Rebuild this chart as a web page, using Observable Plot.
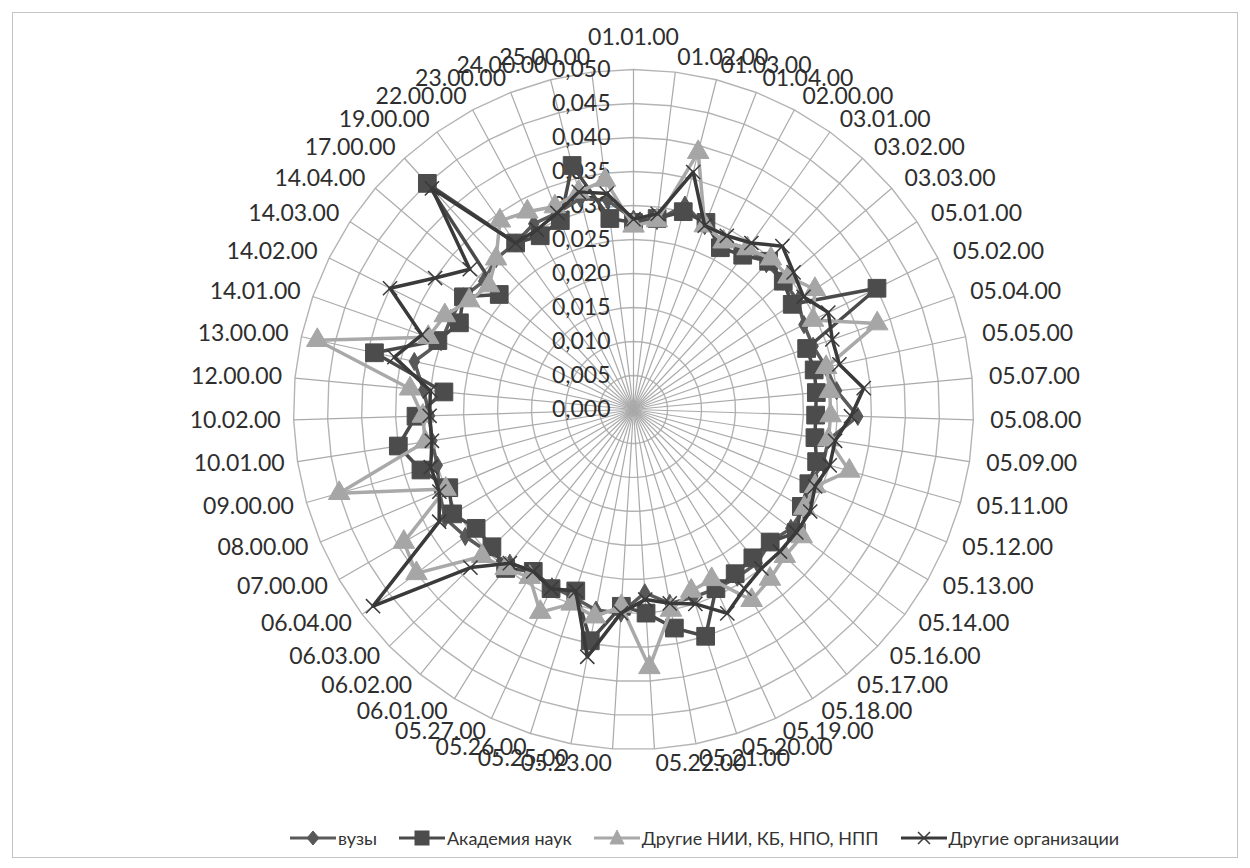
<!DOCTYPE html>
<html><head><meta charset="utf-8">
<script src="https://cdn.jsdelivr.net/npm/d3@7"></script>
<script src="https://cdn.jsdelivr.net/npm/@observablehq/plot@0.6"></script>
<style>
body{margin:0;background:#fff;font-family:Lato,"Open Sans",sans-serif;}
#frame{position:absolute;left:12px;top:12px;width:1226px;height:846px;border:1px solid #c4c4c4;box-sizing:border-box;pointer-events:none;}
#chart{position:absolute;left:0;top:0;}
#legend{position:absolute;top:826px;left:290px;display:flex;align-items:center;font-family:Lato,sans-serif;font-size:18px;color:#333;white-space:nowrap;}
#legend .item{display:flex;align-items:center;margin-right:22px;}
#legend svg{margin-right:2px;}
</style></head>
<body>
<div id="chart"></div>
<div id="legend"></div>
<div id="frame"></div>
<script>
const categories = ["01.01.00","01.02.00","01.03.00","01.04.00","02.00.00","03.01.00","03.02.00","03.03.00","05.01.00","05.02.00","05.04.00","05.05.00","05.07.00","05.08.00","05.09.00","05.11.00","05.12.00","05.13.00","05.14.00","05.16.00","05.17.00","05.18.00","05.19.00","05.20.00","05.21.00","05.22.00","05.23.00","05.25.00","05.26.00","05.27.00","06.01.00","06.02.00","06.03.00","06.04.00","07.00.00","08.00.00","09.00.00","10.01.00","10.02.00","12.00.00","13.00.00","14.01.00","14.02.00","14.03.00","14.04.00","17.00.00","19.00.00","22.00.00","23.00.00","24.00.00","25.00.00"];

const vuzy =      [0.028,0.028,0.031,0.029,0.028,0.029,0.029,0.029,0.029,0.028,0.028,0.029,0.030,0.033,0.029,0.029,0.028,0.029,0.029,0.028,0.029,0.029,0.029,0.029,0.029,0.027,0.030,0.030,0.029,0.0287,0.028,0.029,0.030,0.031,0.032,0.031,0.030,0.030,0.030,0.031,0.033,0.030,0.030,0.030,0.029,0.030,0.030,0.031,0.031,0.032,0.031];
const akademiya = [0.0275,0.0283,0.030,0.0295,0.027,0.0278,0.0295,0.029,0.028,0.040,0.027,0.0272,0.027,0.0268,0.027,0.028,0.028,0.0285,0.030,0.028,0.028,0.0284,0.029,0.035,0.0327,0.030,0.029,0.0346,0.028,0.029,0.028,0.030,0.029,0.029,0.0307,0.0295,0.0325,0.035,0.032,0.028,0.039,0.0305,0.0286,0.030,0.026,0.045,0.030,0.029,0.0298,0.037,0.0283];
const nii =       [0.027,0.028,0.039,0.029,0.028,0.029,0.030,0.030,0.032,0.0295,0.038,0.029,0.029,0.029,0.029,0.033,0.029,0.029,0.031,0.031,0.032,0.033,0.0275,0.028,0.030,0.038,0.029,0.031,0.030,0.0328,0.029,0.030,0.031,0.040,0.039,0.030,0.045,0.031,0.031,0.033,0.0476,0.032,0.031,0.029,0.028,0.030,0.034,0.033,0.032,0.033,0.034];
const drugie =    [0.028,0.029,0.036,0.029,0.029,0.030,0.0325,0.031,0.030,0.032,0.031,0.031,0.034,0.032,0.030,0.030,0.029,0.030,0.030,0.030,0.030,0.031,0.033,0.030,0.029,0.028,0.030,0.037,0.028,0.029,0.028,0.029,0.0334,0.048,0.033,0.031,0.031,0.030,0.030,0.030,0.036,0.033,0.040,0.035,0.0317,0.044,0.030,0.030,0.031,0.033,0.032];

const seriesNames = ["вузы","Академия наук","Другие НИИ, КБ, НПО, НПП","Другие организации"];
const radialTicks = [0,0.005,0.010,0.015,0.020,0.025,0.030,0.035,0.040,0.045,0.050];
const tickLabels = ["0,000","0,005","0,010","0,015","0,020","0,025","0,030","0,035","0,040","0,045","0,050"];

const N = categories.length;
const ang = i => 2 * Math.PI * i / N;
const rMax = 0.05;
const u = rMax / 340; // data units per pixel

const seriesValues = [vuzy, akademiya, nii, drugie];
const styles = [
  {stroke: "#5a5a5a", fill: "#585858", symbol: "diamond", r: 5.5},
  {stroke: "#4a4a4a", fill: "#4c4c4c", symbol: "square", r: 10},
  {stroke: "#a9a9a9", fill: "#a6a6a6", symbol: "triangle", r: 8},
  {stroke: "#3a3a3a", fill: "none", symbol: "times", r: 6.5}
];

const rows = [];
seriesValues.forEach((vals, s) => vals.forEach((v, i) => rows.push({
  s, i, v, x: v * Math.sin(ang(i)), y: v * Math.cos(ang(i))
})));

const grid = [];
radialTicks.slice(1).forEach(t => categories.forEach((c, i) => grid.push({t, x: t * Math.sin(ang(i)), y: t * Math.cos(ang(i))})));

const spokes = categories.map((c, i) => ({x2: rMax * Math.sin(ang(i)), y2: rMax * Math.cos(ang(i))}));

const labels = categories.map((c, i) => {
  const s = Math.sin(ang(i)), co = Math.cos(ang(i));
  let anchor = s > 0.02 ? "start" : (s < -0.02 ? "end" : "middle");
  let R = anchor === "start" ? 357 : 353;
  let x = s * R * u, y = co * 355 * u;
  if (anchor === "middle") { x = 0; y = (co > 0 ? 372 : -360) * u; }
  return {c, anchor, x, y};
});

const marks = [
  Plot.line(grid, {x: "x", y: "y", z: "t", curve: "linear-closed", stroke: "#b4b4b4", strokeWidth: 1.4}),
  Plot.link(spokes, {x1: 0, y1: 0, x2: "x2", y2: "y2", stroke: "#aaaaaa", strokeWidth: 1.2}),
  Plot.text(radialTicks, {x: 0, y: d => d, text: (d, i) => tickLabels[i], textAnchor: "end", dx: -23, fontSize: 23, fill: "#2e2e2e", fontFamily: "Lato"}),
  ...["start", "end", "middle"].map(a => Plot.text(labels.filter(d => d.anchor === a), {x: "x", y: "y", text: "c", textAnchor: a, fontSize: 23, fill: "#2e2e2e", fontFamily: "Lato"}))
];
seriesValues.forEach((vals, s) => {
  const data = rows.filter(d => d.s === s);
  const st = styles[s];
  marks.push(Plot.line(data, {x: "x", y: "y", curve: "linear-closed", stroke: st.stroke, strokeWidth: 3.5, strokeLinejoin: "round"}));
  if (st.symbol === "times") {
    marks.push(Plot.dot(data, {x: "x", y: "y", symbol: "times", r: st.r, stroke: st.stroke, strokeWidth: 1.5}));
  } else {
    marks.push(Plot.dot(data, {x: "x", y: "y", symbol: st.symbol, r: st.r, fill: st.fill, stroke: st.fill, strokeWidth: 1}));
  }
});

const chart = Plot.plot({
  width: 1250, height: 815,
  marginTop: 0, marginBottom: 0, marginLeft: 0, marginRight: 0,
  x: {domain: [-rMax, rMax], range: [293, 973], axis: null},
  y: {domain: [-rMax, rMax], range: [749, 69], axis: null},
  style: {background: "white", fontFamily: "Lato"},
  marks
});
document.getElementById("chart").appendChild(chart);

// legend
const legend = document.getElementById("legend");
const symPaths = {
  diamond: '<path d="M23,5 L29,12 L23,19 L17,12 Z"/>',
  square: '<rect x="16" y="5" width="14" height="14"/>',
  triangle: '<path d="M23,4 L30,18 L16,18 Z"/>',
  times: '<path d="M17,6 L29,18 M29,6 L17,18" fill="none" stroke-width="1.5"/>'
};
seriesNames.forEach((name, s) => {
  const st = styles[s];
  const item = document.createElement("div");
  item.className = "item";
  item.innerHTML = `<svg width="46" height="24"><line x1="0" y1="12" x2="46" y2="12" stroke="${st.stroke}" stroke-width="3.2"/><g fill="${st.fill}" stroke="${st.stroke}">${symPaths[st.symbol]}</g></svg><span>${name}</span>`;
  legend.appendChild(item);
});
</script>
</body></html>
